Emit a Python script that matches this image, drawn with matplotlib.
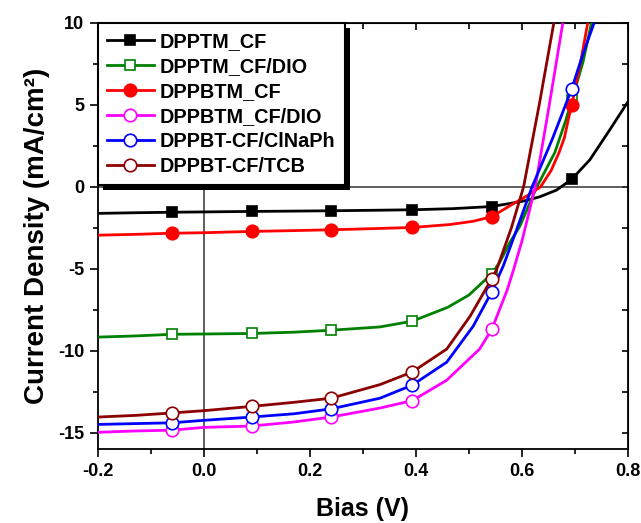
import matplotlib
matplotlib.use("Agg")
import matplotlib.pyplot as plt
from matplotlib.patches import Rectangle
from matplotlib.transforms import IdentityTransform
from matplotlib.ticker import MultipleLocator

plt.rcParams['font.family'] = ['Liberation Sans', 'DejaVu Sans']
plt.rcParams['font.weight'] = 'bold'

labels = ["DPPTM_CF", "DPPTM_CF/DIO", "DPPBTM_CF", "DPPBTM_CF/DIO",
          "DPPBT-CF/ClNaPh", "DPPBT-CF/TCB"]
colors = ["#000000", "#008000", "#ff0000", "#ff00ff", "#0000ff", "#8b0000"]

marker_x = [-0.06, 0.09, 0.24, 0.393, 0.543, 0.694]

# DPPTM_CF
x_black = [-0.2, -0.13, -0.06, 0.0, 0.09, 0.17, 0.24, 0.32, 0.393, 0.47, 0.543,
           0.58, 0.61, 0.634, 0.665, 0.694, 0.728, 0.766, 0.8]
y_black = [-1.62, -1.58, -1.55, -1.53, -1.5, -1.48, -1.46, -1.43, -1.4, -1.33, -1.2,
           -1.0, -0.82, -0.6, -0.2, 0.47, 1.65, 3.5, 5.2]
# DPPTM_CF/DIO
x_green = [-0.2, -0.13, -0.06, 0.0, 0.09, 0.17, 0.24, 0.332, 0.393, 0.46, 0.5,
           0.543, 0.558, 0.577, 0.596, 0.628, 0.662, 0.683, 0.694, 0.715, 0.731]
y_green = [-9.17, -9.1, -9.0, -8.98, -8.95, -8.87, -8.75, -8.55, -8.2, -7.35, -6.6,
           -5.3, -4.6, -3.4, -2.4, 0.0, 2.1, 4.1, 5.3, 7.6, 10.0]
# DPPBTM_CF
x_red = [-0.2, -0.13, -0.06, 0.0, 0.09, 0.17, 0.24, 0.32, 0.393, 0.464, 0.508, 0.543,
         0.58, 0.612, 0.635, 0.655, 0.67, 0.68, 0.688, 0.694, 0.71, 0.724]
y_red = [-2.95, -2.9, -2.83, -2.8, -2.72, -2.67, -2.62, -2.55, -2.48, -2.3, -2.1, -1.82,
         -1.1, -0.5, 0.0, 1.0, 2.1, 3.0, 4.2, 5.0, 7.5, 10.0]
# DPPBTM_CF/DIO
x_mag = [-0.2, -0.13, -0.06, 0.0, 0.09, 0.17, 0.24, 0.332, 0.393, 0.458, 0.52, 0.543,
         0.572, 0.584, 0.6, 0.625, 0.652, 0.677]
y_mag = [-14.98, -14.9, -14.85, -14.68, -14.6, -14.35, -14.05, -13.5, -13.05, -11.8,
         -9.9, -8.7, -6.3, -5.06, -3.3, 0.0, 5.1, 10.0]
# DPPBT-CF/ClNaPh
x_blue = [-0.2, -0.13, -0.06, 0.0, 0.09, 0.17, 0.24, 0.332, 0.393, 0.458, 0.508, 0.543,
          0.565, 0.59, 0.619, 0.657, 0.675, 0.694, 0.715, 0.736]
y_blue = [-14.5, -14.45, -14.4, -14.25, -14.05, -13.85, -13.55, -12.9, -12.1, -10.7,
          -8.5, -6.4, -4.8, -2.6, 0.0, 2.9, 4.4, 6.0, 8.1, 10.0]
# DPPBT-CF/TCB
x_brown = [-0.2, -0.13, -0.06, 0.0, 0.09, 0.17, 0.24, 0.332, 0.393, 0.458, 0.502,
           0.543, 0.552, 0.58, 0.603, 0.633, 0.66]
y_brown = [-14.05, -13.95, -13.8, -13.66, -13.4, -13.15, -12.9, -12.07, -11.3, -9.9,
           -7.9, -5.6, -5.06, -2.5, 0.0, 5.1, 10.0]

series_x = [x_black, x_green, x_red, x_mag, x_blue, x_brown]
series_y = [y_black, y_green, y_red, y_mag, y_blue, y_brown]
markers = ["s", "s", "o", "o", "o", "o"]
filled = [True, False, True, False, False, False]
msizes = [7.5, 7.5, 9, 9, 9, 9]

fig = plt.figure(figsize=(6.41, 5.23), dpi=100)
ax = fig.add_axes([98 / 641, 1 - 449 / 523, 530 / 641, 426 / 523])

ax.axhline(0, color="#333333", lw=1.1, zorder=1)
ax.axvline(0, color="#333333", lw=1.1, zorder=1)

for xs, ys, lab, col, mk, fl, ms in zip(series_x, series_y, labels, colors,
                                       markers, filled, msizes):
    idx = [i for i, v in enumerate(xs) if any(abs(v - m) < 1e-9 for m in marker_x)]
    ax.plot(xs, ys, color=col, lw=2.0, marker=mk, markevery=idx, ms=ms,
            markerfacecolor=col if fl else "white", markeredgecolor=col,
            markeredgewidth=1.2, label=lab, zorder=3)

ax.set_xlim(-0.2, 0.8)
ax.set_ylim(-16, 10)
ax.xaxis.set_minor_locator(MultipleLocator(0.1))
ax.yaxis.set_minor_locator(MultipleLocator(2.5))
ax.set_xticks([-0.2, 0.0, 0.2, 0.4, 0.6, 0.8])
ax.set_xticklabels(["-0.2", "0.0", "0.2", "0.4", "0.6", "0.8"])
ax.set_yticks([-15, -10, -5, 0, 5, 10])
ax.set_yticklabels(["-15", "-10", "-5", "0", "5", "10"])
ax.tick_params(which="major", direction="out", length=6, width=1.2,
               labelsize=13, pad=4)
ax.tick_params(which="minor", direction="out", length=3.5, width=1.2)
for lab in ax.get_xticklabels() + ax.get_yticklabels():
    lab.set_fontweight("bold")
for sp in ax.spines.values():
    sp.set_linewidth(1.3)

top = ax.secondary_xaxis("top")
top.xaxis.set_major_locator(MultipleLocator(0.2))
top.xaxis.set_minor_locator(MultipleLocator(0.1))
top.tick_params(which="major", direction="in", length=5, width=1.2, labeltop=False)
top.tick_params(which="minor", direction="in", length=4, width=1.2)
right = ax.secondary_yaxis("right")
right.yaxis.set_major_locator(MultipleLocator(5))
right.yaxis.set_minor_locator(MultipleLocator(2.5))
right.tick_params(which="major", direction="in", length=4.5, width=1.2, labelright=False)
right.tick_params(which="minor", direction="in", length=4, width=1.2)

ax.set_xlabel("Bias (V)", fontsize=18, fontweight="bold", labelpad=12)
ax.set_ylabel("Current Density (mA/cm\u00b2)", fontsize=20,
              fontweight="bold", labelpad=6)

leg = ax.legend(loc="upper left", borderaxespad=0.0,
                prop={"weight": "bold", "size": 14.3}, frameon=True,
                fancybox=False, edgecolor="black", framealpha=1.0,
                handlelength=2.37, handletextpad=0.3, labelspacing=0.3,
                borderpad=0.45)
leg.get_frame().set_linewidth(1.5)
leg.set_zorder(6)

fig.canvas.draw()
bb = leg.get_window_extent()
shadow = Rectangle((bb.x0 + 5, bb.y0 - 5), bb.width, bb.height,
                   transform=IdentityTransform(), facecolor="black",
                   edgecolor="none", zorder=5.5, clip_on=False)
ax.add_artist(shadow)

fig.savefig("out.png", dpi=100)
